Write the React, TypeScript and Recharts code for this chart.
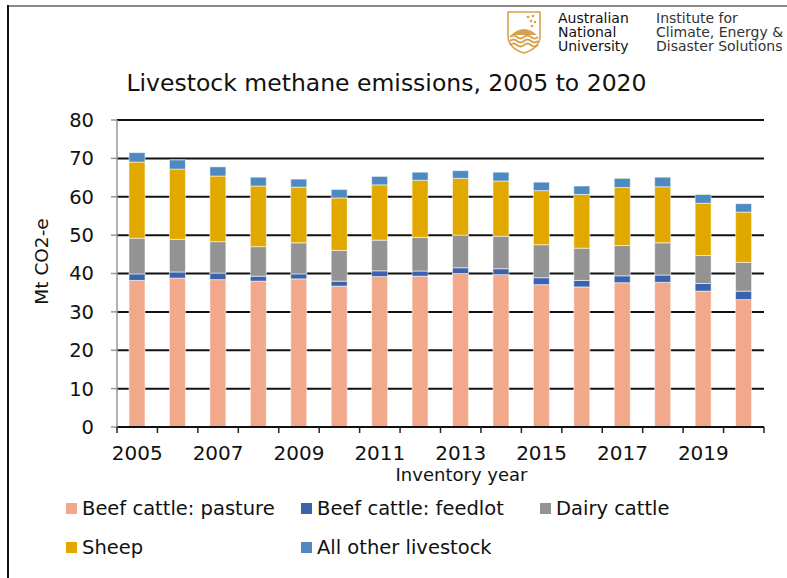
import { Bar, BarChart, CartesianGrid, Label, XAxis, YAxis } from "recharts";

const years = [
  "2005", "2006", "2007", "2008", "2009", "2010", "2011", "2012",
  "2013", "2014", "2015", "2016", "2017", "2018", "2019", "2020",
];
const beefPasture = [38.2, 38.8, 38.4, 38.0, 38.6, 36.7, 39.2, 39.3, 40.0, 39.7, 37.1, 36.5, 37.6, 37.7, 35.4, 33.2];
const beefFeedlot = [1.7, 1.6, 1.7, 1.3, 1.3, 1.3, 1.5, 1.35, 1.5, 1.55, 1.8, 1.7, 1.8, 1.9, 2.0, 2.2];
const dairy = [9.3, 8.5, 8.2, 7.7, 8.1, 8.0, 8.0, 8.75, 8.5, 8.45, 8.6, 8.4, 7.9, 8.4, 7.3, 7.5];
const sheep = [19.85, 18.3, 17.1, 15.8, 14.5, 13.7, 14.4, 14.9, 14.8, 14.4, 14.1, 14.0, 15.1, 14.6, 13.6, 13.1];
const otherLivestock = [2.45, 2.4, 2.4, 2.3, 2.1, 2.2, 2.2, 2.1, 2.0, 2.3, 2.2, 2.2, 2.4, 2.5, 2.3, 2.2];
const yTicks = [0, 10, 20, 30, 40, 50, 60, 70, 80];

const series = [
  { key: "pasture", name: "Beef cattle: pasture", color: "#F2A88B", values: beefPasture },
  { key: "feedlot", name: "Beef cattle: feedlot", color: "#3B62AD", values: beefFeedlot },
  { key: "dairy", name: "Dairy cattle", color: "#939393", values: dairy },
  { key: "sheep", name: "Sheep", color: "#E1A900", values: sheep },
  { key: "other", name: "All other livestock", color: "#4E89BF", values: otherLivestock },
];

const data = years.map((year, i) => {
  const row: Record<string, string | number> = { year };
  series.forEach((s) => (row[s.key] = s.values[i]));
  return row;
});

const FONT = "'DejaVu Sans', Verdana, sans-serif";
const INK = "#111";

// category labels every second year, tick marks on the category boundaries
const YearTick = (props: any) => {
  const { x, y, payload, index } = props;
  const half = payload?.offset || 20.2;
  const y0 = y - 8;
  return (
    <g>
      <line x1={x - half} x2={x - half} y1={y0} y2={y0 + 6} stroke="#222" strokeWidth={1.5} />
      {index === years.length - 1 && (
        <line x1={x + half} x2={x + half} y1={y0} y2={y0 + 6} stroke="#222" strokeWidth={1.5} />
      )}
      {index % 2 === 0 && (
        <text x={x} y={y0 + 33} textAnchor="middle" fontSize={20} fill={INK} fontFamily={FONT}>
          {payload.value}
        </text>
      )}
    </g>
  );
};

const Crest = () => (
  <svg width={36} height={44} viewBox="0 0 36 44" style={{ position: "absolute", left: 506, top: 10 }}>
    <path d="M2 2 H34 V26 Q34 38 18 43 Q2 38 2 26 Z" fill="none" stroke="#D6A24E" strokeWidth={1.6} />
    {[[22, 7], [27, 6], [25, 11], [29, 12], [26, 16]].map(([cx, cy], i) => (
      <circle key={i} cx={cx} cy={cy} r={1.3} fill="#D6A24E" />
    ))}
    <path d="M5 25 Q18 13 31 25 Z" fill="#D6A24E" />
    {[27, 31, 35].map((wy) => (
      <path
        key={wy}
        d={`M4 ${wy} q3.5 -3 7 0 t7 0 t7 0 t7 0`}
        fill="none"
        stroke="#D6A24E"
        strokeWidth={2}
      />
    ))}
  </svg>
);

const logoLines = ["Australian", "National", "University"];
const instituteLines = ["Institute for", "Climate, Energy &", "Disaster Solutions"];

const TextBlock = ({ lines, left, color }: { lines: string[]; left: number; color: string }) => (
  <>
    {lines.map((t, i) => (
      <div
        key={t}
        style={{
          position: "absolute",
          left,
          top: 11 + i * 14,
          height: 14,
          fontFamily: FONT,
          fontSize: 14,
          lineHeight: "14px",
          color,
          whiteSpace: "nowrap",
        }}
      >
        {t}
      </div>
    ))}
  </>
);

const legendCols = [66, 301, 540];
const legendRows = [496, 535];

const Legend = () => (
  <>
    {series.map((s, i) => (
      <div
        key={s.key}
        style={{
          position: "absolute",
          left: legendCols[i % 3],
          top: legendRows[Math.floor(i / 3)],
          height: 24,
          display: "flex",
          alignItems: "center",
          whiteSpace: "nowrap",
          fontFamily: FONT,
          fontSize: 19.5,
          color: INK,
        }}
      >
        <span style={{ width: 11, height: 11, background: s.color, marginRight: 5, display: "inline-block" }} />
        {s.name}
      </div>
    ))}
  </>
);

export default function App() {
  return (
    <div style={{ position: "absolute", left: 0, top: 0, width: 787, height: 578, background: "#fff", overflow: "hidden" }}>
      <div style={{ position: "absolute", left: 8, top: 5, right: 0, height: 2, background: "#8a8a8a" }} />
      <div style={{ position: "absolute", left: 7, top: 5, bottom: 0, width: 2, background: INK }} />
      <Crest />
      <TextBlock lines={logoLines} left={558} color={INK} />
      <TextBlock lines={instituteLines} left={656} color="#333" />
      <div
        style={{
          position: "absolute",
          left: 0,
          width: 773,
          top: 71,
          textAlign: "center",
          fontFamily: FONT,
          fontSize: 23.5,
          lineHeight: "24px",
          color: INK,
        }}
      >
        Livestock methane emissions, 2005 to 2020
      </div>
      <div style={{ position: "absolute", left: 0, top: 0 }}>
        <BarChart
          width={787}
          height={578}
          data={data}
          barSize={16}
          margin={{ top: 120, right: 23, bottom: 121, left: 0 }}
        >
          <CartesianGrid vertical={false} stroke={INK} strokeWidth={2} />
          <XAxis
            dataKey="year"
            interval={0}
            tickLine={false}
            axisLine={{ stroke: INK, strokeWidth: 2 }}
            tick={<YearTick />}
            height={30}
          >
            <Label
              content={(p: any) => {
                const vb = p.viewBox;
                return (
                  <text x={vb.x + vb.width / 2 + 21} y={481} textAnchor="middle" fontSize={18} fill={INK} fontFamily={FONT}>
                    Inventory year
                  </text>
                );
              }}
            />
          </XAxis>
          <YAxis
            width={117}
            domain={[0, 80]}
            ticks={yTicks}
            interval={0}
            tickSize={6}
            tickMargin={17}
            tickLine={{ stroke: "#999", strokeWidth: 1.5 }}
            axisLine={{ stroke: "#999", strokeWidth: 1.5 }}
            tick={{ fontSize: 19.5, fill: INK, fontFamily: FONT }}
          >
            <Label
              content={(p: any) => {
                const vb = p.viewBox;
                const cx = vb.x + 48;
                const cy = vb.y + vb.height / 2 - 12;
                return (
                  <text
                    transform={`translate(${cx},${cy}) rotate(-90)`}
                    textAnchor="middle"
                    fontSize={18.5}
                    fill={INK}
                    fontFamily={FONT}
                  >
                    Mt CO2-e
                  </text>
                );
              }}
            />
          </YAxis>
          {series.map((s) => (
            <Bar
              key={s.key}
              dataKey={s.key}
              name={s.name}
              stackId="total"
              fill={s.color}
              stroke="#ffffff"
              strokeOpacity={0.55}
              strokeWidth={1}
              isAnimationActive={false}
            />
          ))}
        </BarChart>
      </div>
      <Legend />
    </div>
  );
}
